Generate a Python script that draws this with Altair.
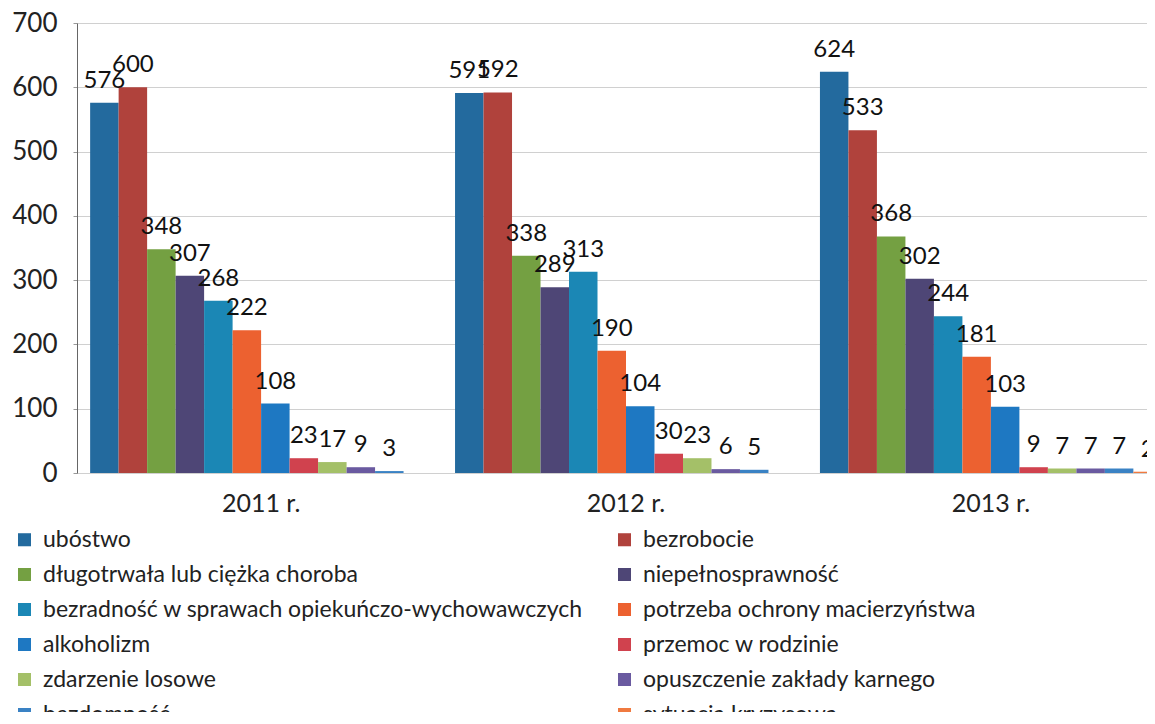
import altair as alt
import pandas as pd

years = ["2011 r.", "2012 r.", "2013 r."]
categories = [
    "ubóstwo",
    "bezrobocie",
    "długotrwała lub ciężka choroba",
    "niepełnosprawność",
    "bezradność w sprawach opiekuńczo-wychowawczych",
    "potrzeba ochrony macierzyństwa",
    "alkoholizm",
    "przemoc w rodzinie",
    "zdarzenie losowe",
    "opuszczenie zakłady karnego",
    "bezdomność",
    "sytuacja kryzysowa",
]
colors = [
    "#236a9e", "#b0423c", "#74a042", "#4e4676", "#1b87b5", "#ec6130",
    "#1e78c2", "#d0424e", "#a4c068", "#6a5aa0", "#3a82c4", "#f07a40",
]
v2011 = [576, 600, 348, 307, 268, 222, 108, 23, 17, 9, 3, None]
v2012 = [591, 592, 338, 289, 313, 190, 104, 30, 23, 6, 5, None]
v2013 = [624, 533, 368, 302, 244, 181, 103, 9, 7, 7, 7, 2]

rows = []
for yr, vals in zip(years, [v2011, v2012, v2013]):
    for c, v in zip(categories, vals):
        if v is not None:
            rows.append({"rok": yr, "przyczyna": c, "liczba": v})
df = pd.DataFrame(rows)

# legend is laid out column by column: reorder so it reads row by row in two columns
legend_order = categories[0::2] + categories[1::2]
legend_colors = colors[0::2] + colors[1::2]

FONT = "Lato"

x = alt.X(
    "rok:N",
    sort=years,
    scale=alt.Scale(domain=years, range=[0, 1098], paddingInner=0.063, paddingOuter=0.036),
    axis=alt.Axis(title=None, labelAngle=0, ticks=False, domain=False,
                  labelFontSize=25, labelPadding=18, labelFont=FONT, labelColor="#222"),
)
xoff = alt.XOffset("przyczyna:N", sort=categories,
                   scale=alt.Scale(domain=categories, paddingInner=0, paddingOuter=0))
y = alt.Y(
    "liczba:Q",
    scale=alt.Scale(domain=[0, 700], nice=False),
    axis=alt.Axis(title=None, values=list(range(0, 701, 100)), labelFontSize=26,
                  labelFont=FONT, labelColor="#222", labelPadding=16,
                  gridColor="#d0d0d0", domainColor="#666", tickColor="#999", tickSize=4),
)
color = alt.Color(
    "przyczyna:N",
    scale=alt.Scale(domain=legend_order, range=legend_colors),
    legend=alt.Legend(orient="none", legendX=-64, legendY=505, columns=2, title=None,
                      symbolType="square", symbolSize=170, symbolStrokeWidth=0,
                      labelFontSize=23, labelFont=FONT, labelColor="#222",
                      rowPadding=11, columnPadding=30, labelLimit=0, labelOffset=7),
)

base = alt.Chart(df).encode(x=x, xOffset=xoff, y=y)
bars = base.mark_bar(stroke=None).encode(color=color)
labels = base.mark_text(baseline="bottom", dy=-10, fontSize=24, font=FONT, color="#111").encode(
    text="liczba:Q")

chart = (
    alt.layer(bars, labels)
    .properties(
        width=1070,
        height=450,
        autosize=alt.AutoSizeParams(type="none"),
        padding={"left": 69, "top": 15, "right": 0, "bottom": 239},
        title=alt.TitleParams("w rodzinach)", anchor="start", dx=-69, offset=7,
                              fontSize=20, fontWeight="bold", font=FONT, color="#111"),
        background="white",
    )
    .configure_view(stroke=None)
)

chart.save("out.html", embed_options={"renderer": "svg", "actions": False})
